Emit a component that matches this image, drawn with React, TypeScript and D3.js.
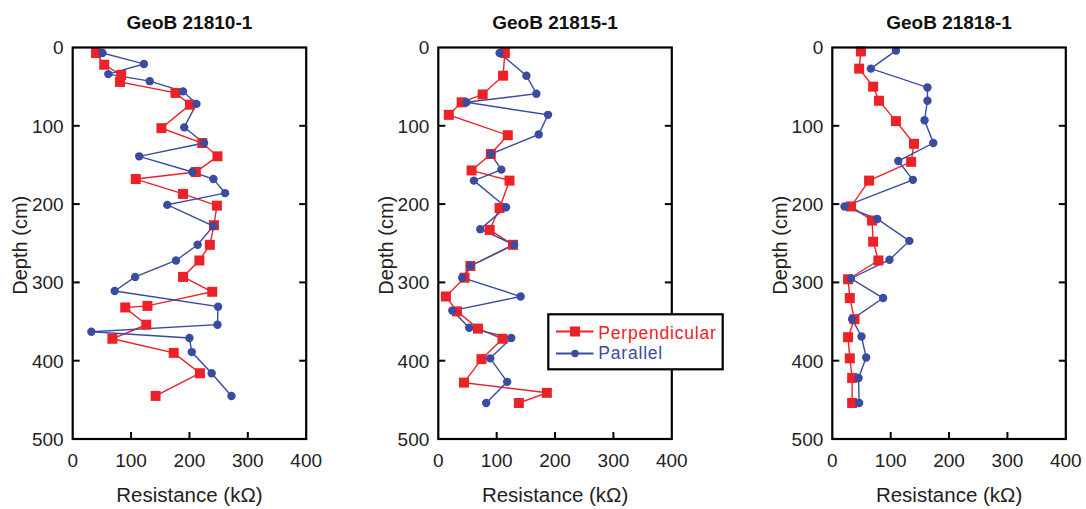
import React from "react";
import * as d3 from "d3";

type Pt = [number, number]; // [resistance kΩ, depth cm]

const titles = ["GeoB 21810-1", "GeoB 21815-1", "GeoB 21818-1"];
const xTicks = [0, 100, 200, 300, 400];
const yTicks = [0, 100, 200, 300, 400, 500];
const seriesNames = ["Perpendicular", "Parallel"];

const perp1: Pt[] = [
  [40, 7], [54, 22], [83, 35], [81, 44], [176, 58], [201, 73], [152, 103], [222, 122],
  [248, 139], [211, 159], [108, 168], [189, 187], [247, 202], [242, 227], [235, 252],
  [217, 272], [189, 293], [239, 312], [128, 330], [90, 332], [126, 354], [68, 372],
  [173, 390], [218, 416], [142, 445],
];
const par1: Pt[] = [
  [51, 7], [122, 21], [61, 34], [132, 43], [189, 56], [212, 72], [191, 102], [225, 122],
  [114, 139], [205, 159], [241, 168], [261, 186], [162, 201], [241, 228], [214, 252],
  [177, 272], [107, 293], [72, 311], [249, 331], [248, 354], [32, 363], [200, 371],
  [204, 389], [238, 416], [272, 445],
];
const perp2: Pt[] = [
  [114, 7], [111, 36], [76, 60], [40, 70], [18, 86], [119, 112], [90, 136], [57, 157],
  [122, 170], [105, 205], [88, 233], [128, 252], [55, 279], [45, 294], [13, 318],
  [32, 337], [68, 359], [110, 372], [74, 398], [44, 428], [186, 441], [138, 454],
];
const par2: Pt[] = [
  [105, 7], [151, 36], [168, 59], [48, 70], [188, 86], [172, 111], [90, 136], [108, 156],
  [61, 170], [116, 204], [72, 232], [130, 252], [55, 279], [41, 294], [141, 318],
  [24, 336], [53, 358], [125, 371], [89, 397], [118, 427], [82, 454],
];
const perp3: Pt[] = [
  [49, 5], [46, 27], [70, 50], [80, 68], [109, 94], [140, 123], [135, 146], [63, 170],
  [32, 203], [68, 221], [70, 248], [79, 272], [27, 296], [30, 320], [38, 347],
  [27, 370], [30, 397], [34, 422], [34, 454],
];
const par3: Pt[] = [
  [109, 4], [66, 27], [163, 51], [163, 68], [158, 93], [173, 122], [113, 145], [138, 169],
  [21, 203], [77, 219], [132, 247], [98, 271], [32, 295], [87, 320], [34, 347],
  [50, 369], [58, 396], [45, 422], [46, 454],
];

const panelsPerp = [perp1, perp2, perp3];
const panelsPar = [par1, par2, par3];

const RED = "#ec2228";
const BLUE = "#3a4ca0";
const FONT = "'Liberation Sans', Arial, sans-serif";

const panelLeft = [72.7, 438.3, 832.3];
const panelW = 233.5;
const top = 47.5;
const bottom = 439;

function Panel({ idx }: { idx: number }) {
  const x0 = panelLeft[idx];
  const x = d3.scaleLinear().domain([0, 400]).range([x0, x0 + panelW]);
  const y = d3.scaleLinear().domain([0, 500]).range([top, bottom]);
  const line = d3
    .line<Pt>()
    .x((d) => x(d[0]))
    .y((d) => y(d[1]));
  const perp = panelsPerp[idx];
  const par = panelsPar[idx];
  const cx = (x0 + x0 + panelW) / 2;
  return (
    <g>
      <text x={cx} y={29.3} textAnchor="middle" fontFamily={FONT} fontWeight="bold" fontSize={19} fill="#111">
        {titles[idx]}
      </text>
      {/* data */}
      <path d={line(perp) || ""} fill="none" stroke={RED} strokeWidth={1.4} />
      <path d={line(par) || ""} fill="none" stroke={BLUE} strokeWidth={1.4} />
      {perp.map((d, i) => (
        <rect key={"r" + i} x={x(d[0]) - 5} y={y(d[1]) - 5} width={10} height={10} fill={RED} />
      ))}
      {par.map((d, i) => (
        <circle key={"c" + i} cx={x(d[0])} cy={y(d[1])} r={4.2} fill={BLUE} />
      ))}
      {/* frame */}
      <rect x={x0} y={top} width={panelW} height={bottom - top} fill="none" stroke="#000" strokeWidth={2.2} />
      {yTicks.map((t) => (
        <g key={"yt" + t}>
          {t > 0 && t < 500 && (
            <>
              <line x1={x0} x2={x0 + 7} y1={y(t)} y2={y(t)} stroke="#000" strokeWidth={2} />
              <line x1={x0 + panelW} x2={x0 + panelW - 7} y1={y(t)} y2={y(t)} stroke="#000" strokeWidth={2} />
            </>
          )}
          <text x={x0 - 9} y={y(t)} dy="0.36em" textAnchor="end" fontFamily={FONT} fontSize={19} fill="#222">
            {t}
          </text>
        </g>
      ))}
      {xTicks.map((t) => (
        <g key={"xt" + t}>
          {t > 0 && t < 400 && (
            <line x1={x(t)} x2={x(t)} y1={bottom} y2={bottom - 7} stroke="#000" strokeWidth={2} />
          )}
          <text x={x(t)} y={466.5} textAnchor="middle" fontFamily={FONT} fontSize={19} fill="#222">
            {t}
          </text>
        </g>
      ))}
      <text x={cx} y={501.5} textAnchor="middle" fontFamily={FONT} fontSize={20.5} fill="#222">
        Resistance (kΩ)
      </text>
      <text
        transform={`translate(${x0 - 45.5},${(top + bottom) / 2 + 2}) rotate(-90)`}
        textAnchor="middle"
        fontFamily={FONT}
        fontSize={20}
        fill="#222"
      >
        Depth (cm)
      </text>
    </g>
  );
}

function Legend() {
  const lx = 548.3;
  const ly = 314.3;
  const w = 174.4;
  const h = 55;
  return (
    <g>
      <rect x={lx} y={ly} width={w} height={h} fill="#fff" stroke="#000" strokeWidth={2.2} />
      <line x1={556} x2={593.5} y1={331.5} y2={331.5} stroke={RED} strokeWidth={1.8} />
      <rect x={575 - 5} y={331.5 - 5} width={10} height={10} fill={RED} />
      <text x={598.3} y={339.3} fontFamily={FONT} fontSize={17.5} letterSpacing={0.8} fill={RED}>
        {seriesNames[0]}
      </text>
      <line x1={556} x2={593.5} y1={353.5} y2={353.5} stroke={BLUE} strokeWidth={1.8} />
      <circle cx={575} cy={353.5} r={3.7} fill={BLUE} />
      <text x={598.3} y={359.3} fontFamily={FONT} fontSize={17.5} letterSpacing={0.8} fill={BLUE}>
        {seriesNames[1]}
      </text>
    </g>
  );
}

export default function App() {
  return (
    <svg
      width={1086}
      height={509}
      style={{ position: "absolute", left: 0, top: 0, background: "#fff" }}
    >
      <rect width={1086} height={509} fill="#fff" />
      {[0, 1, 2].map((i) => (
        <Panel key={i} idx={i} />
      ))}
      <Legend />
    </svg>
  );
}
